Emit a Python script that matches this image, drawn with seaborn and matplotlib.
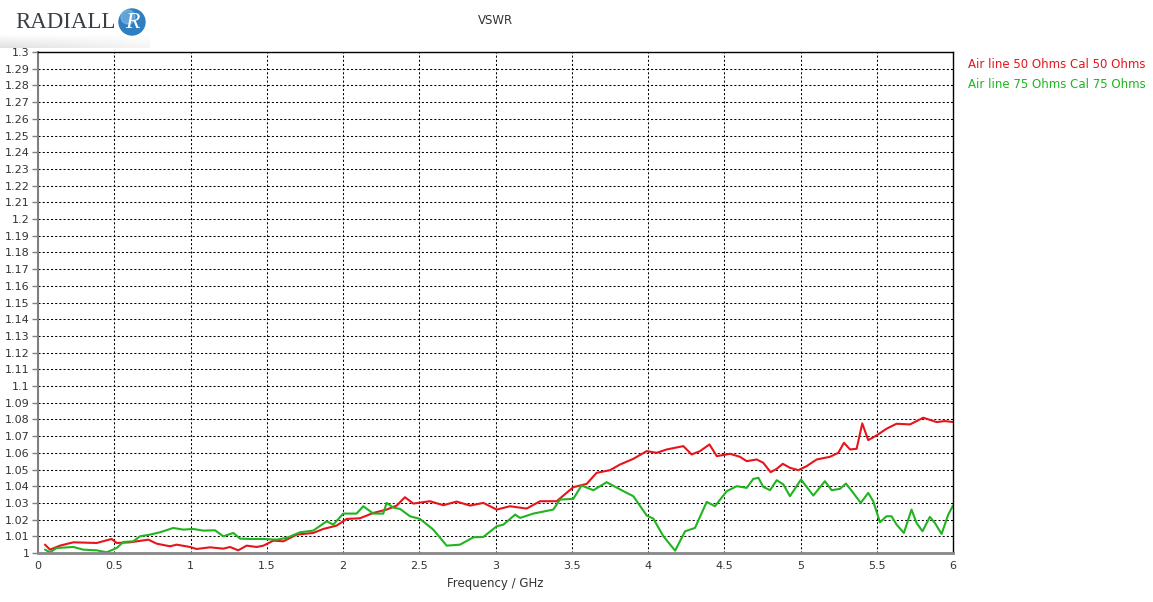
import numpy as np
import pandas as pd
import matplotlib
matplotlib.use("Agg")
import matplotlib.pyplot as plt
from matplotlib.patches import Circle
import seaborn as sns

# Measured VSWR traces (frequency in GHz, VSWR)
freq_50 = [0.046, 0.079, 0.144, 0.232, 0.385, 0.483, 0.516, 0.603, 0.724, 0.778, 0.866, 0.909,
           0.997, 1.04, 1.128, 1.215, 1.259, 1.313, 1.368, 1.434, 1.478, 1.543, 1.609, 1.696,
           1.805, 1.871, 1.958, 2.024, 2.111, 2.199, 2.286, 2.352, 2.406, 2.461, 2.570, 2.658,
           2.745, 2.833, 2.920, 3.008, 3.095, 3.204, 3.292, 3.401, 3.510, 3.598, 3.663, 3.751,
           3.817, 3.904, 3.992, 4.057, 4.123, 4.232, 4.286, 4.341, 4.403, 4.451, 4.538, 4.603,
           4.647, 4.713, 4.756, 4.804, 4.844, 4.884, 4.931, 4.986, 5.040, 5.106, 5.193, 5.248,
           5.285, 5.325, 5.368, 5.405, 5.444, 5.499, 5.564, 5.630, 5.718, 5.805, 5.893, 5.947,
           6.0]
vswr_50 = [1.005, 1.002, 1.0044, 1.0064, 1.006, 1.0084, 1.006, 1.0064, 1.008, 1.0056, 1.004, 1.005,
           1.0036, 1.0024, 1.0034, 1.0026, 1.0036, 1.0016, 1.0044, 1.0036, 1.0044, 1.0074, 1.007, 1.011,
           1.012, 1.0144, 1.0164, 1.0204, 1.0208, 1.024, 1.026, 1.0284, 1.0334, 1.0296, 1.031, 1.0286,
           1.0308, 1.0284, 1.030, 1.026, 1.028, 1.0266, 1.031, 1.031, 1.0394, 1.0414, 1.048, 1.0496,
           1.053, 1.0564, 1.061, 1.060, 1.062, 1.064, 1.059, 1.061, 1.065, 1.058, 1.0594, 1.0576,
           1.055, 1.056, 1.054, 1.0484, 1.0504, 1.0534, 1.051, 1.0496, 1.052, 1.056, 1.0576, 1.060,
           1.066, 1.062, 1.0624, 1.0776, 1.0676, 1.0704, 1.0744, 1.0774, 1.077, 1.081, 1.0784, 1.079,
           1.0784]

freq_75 = [0.046, 0.079, 0.122, 0.232, 0.297, 0.385, 0.45, 0.516, 0.56, 0.625, 0.669, 0.734,
           0.8, 0.887, 0.953, 1.018, 1.084, 1.161, 1.215, 1.281, 1.325, 1.39, 1.478, 1.565,
           1.630, 1.718, 1.805, 1.893, 1.936, 2.002, 2.089, 2.133, 2.199, 2.264, 2.286, 2.330,
           2.374, 2.439, 2.505, 2.592, 2.680, 2.767, 2.855, 2.920, 3.008, 3.052, 3.129, 3.161,
           3.248, 3.379, 3.423, 3.510, 3.564, 3.642, 3.729, 3.839, 3.904, 3.992, 4.035, 4.101,
           4.178, 4.243, 4.308, 4.385, 4.439, 4.516, 4.582, 4.647, 4.691, 4.724, 4.756, 4.800,
           4.844, 4.888, 4.931, 5.003, 5.084, 5.160, 5.204, 5.259, 5.298, 5.346, 5.395, 5.444,
           5.477, 5.521, 5.564, 5.597, 5.630, 5.678, 5.728, 5.761, 5.800, 5.848, 5.881, 5.925,
           5.969, 6.0]
vswr_75 = [1.002, 1.0004, 1.003, 1.0036, 1.002, 1.0016, 1.0004, 1.003, 1.0066, 1.007, 1.010, 1.011,
           1.0124, 1.015, 1.014, 1.0144, 1.0134, 1.0136, 1.010, 1.012, 1.0086, 1.0084, 1.0084, 1.008,
           1.009, 1.0124, 1.0134, 1.019, 1.017, 1.0236, 1.0236, 1.028, 1.0236, 1.0236, 1.030, 1.0272,
           1.0264, 1.022, 1.0204, 1.014, 1.0044, 1.005, 1.0094, 1.0096, 1.016, 1.017, 1.023, 1.021,
           1.0236, 1.026, 1.032, 1.0324, 1.0404, 1.0376, 1.0424, 1.037, 1.034, 1.0224, 1.0206, 1.010,
           1.0014, 1.013, 1.015, 1.0306, 1.028, 1.037, 1.040, 1.039, 1.0444, 1.045, 1.0396, 1.0376,
           1.0436, 1.041, 1.034, 1.044, 1.0344, 1.043, 1.0376, 1.0384, 1.0416, 1.036, 1.030, 1.036,
           1.031, 1.0184, 1.022, 1.022, 1.017, 1.012, 1.026, 1.018, 1.013, 1.0216, 1.018, 1.0114,
           1.023, 1.0284]

series_names = ["Air line 50 Ohms Cal 50 Ohms", "Air line 75 Ohms Cal 75 Ohms"]
series_colors = ["#e8141c", "#1fb51f"]
x_ticks = [0, 0.5, 1, 1.5, 2, 2.5, 3, 3.5, 4, 4.5, 5, 5.5, 6]
y_ticks = [round(1.0 + 0.01 * i, 2) for i in range(31)]

df = pd.concat([
    pd.DataFrame({"freq": freq_50, "vswr": vswr_50, "series": series_names[0]}),
    pd.DataFrame({"freq": freq_75, "vswr": vswr_75, "series": series_names[1]}),
], ignore_index=True)

sns.set_theme(style="white")
plt.rcParams["font.family"] = ["DejaVu Sans"]

W, H = 1153, 602
fig = plt.figure(figsize=(W / 100, H / 100), dpi=100)
ax = fig.add_axes([38 / W, 1 - 553 / H, (953 - 38) / W, (553 - 52) / H])

sns.lineplot(data=df, x="freq", y="vswr", hue="series", palette=series_colors,
             hue_order=series_names, ax=ax, linewidth=1.5, legend=False,
             estimator=None, sort=False)

ax.set_xlim(0, 6)
ax.set_ylim(1.0, 1.3)
ax.set_xticks(x_ticks)
ax.set_xticklabels([f"{t:g}" for t in x_ticks])
ax.set_yticks(y_ticks)
ax.set_yticklabels([f"{t:g}" for t in y_ticks])
ax.tick_params(axis="both", labelsize=8, colors="#333333", labelcolor="#333333")
ax.tick_params(axis="y", length=4, width=1, color="#808080", pad=2, direction="out", left=True)
ax.tick_params(axis="x", length=0, pad=6)
ax.grid(True, color="black", linestyle=(0, (2, 2)), linewidth=0.75)
ax.set_axisbelow(True)

for side in ("top", "right"):
    ax.spines[side].set_color("black")
    ax.spines[side].set_linewidth(1.0)
ax.spines["left"].set_color("#808080")
ax.spines["left"].set_linewidth(1.5)
ax.spines["bottom"].set_color("#888888")
ax.spines["bottom"].set_linewidth(2.0)

ax.set_xlabel("Frequency / GHz", fontsize=8.5, color="#333333", labelpad=4)
ax.set_ylabel("")

fig.text(495 / W, 1 - 20 / H, "VSWR", ha="center", va="center", fontsize=8.5, color="#333333")

# Series labels at the right
for i, (name, col) in enumerate(zip(series_names, series_colors)):
    fig.text(968 / W, 1 - (65 + 20 * i) / H, name, ha="left", va="center",
             fontsize=8.5, color=col)

# Company logo at the top left
logo_ax = fig.add_axes([0, 1 - 48 / H, 150 / W, 48 / H])
logo_ax.set_xlim(0, 150)
logo_ax.set_ylim(48, 0)
logo_ax.axis("off")
gx = np.linspace(0.0, 1.0, 150)[None, :]
gy = np.linspace(0.0, 1.0, 14)[:, None]
shade = 1.0 - 0.12 * gy * (1 - 0.7 * gx)
logo_ax.imshow(np.dstack([shade, shade, shade]), extent=(0, 150, 48, 34),
               aspect="auto", zorder=0, vmin=0, vmax=1)
logo_ax.text(15, 23, "RADIALL", fontsize=16.5, family="Liberation Serif",
             color="#3a3f46", ha="left", va="center", zorder=1)
logo_ax.add_patch(Circle((132, 22), 13, color="#2f7fc0", zorder=2))
logo_ax.add_patch(Circle((128, 17), 7, color="#8ec4ea", alpha=0.55, zorder=3))
logo_ax.text(132, 23, "R", fontsize=17, family="Liberation Serif", style="italic",
             color="white", ha="center", va="center", zorder=4)

fig.savefig("out.png", dpi=100, facecolor="white")
